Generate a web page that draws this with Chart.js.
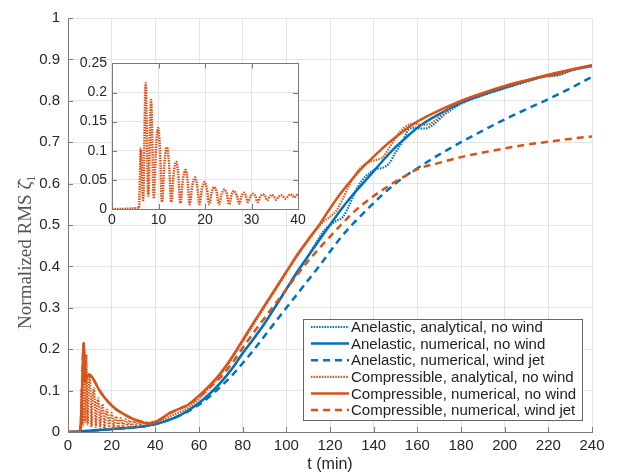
<!DOCTYPE html>
<html>
<head>
<meta charset="utf-8">
<script src="https://cdn.jsdelivr.net/npm/chart.js@4.4.1/dist/chart.umd.min.js"></script>
<style>
  html, body { margin: 0; padding: 0; background: #fff; }
  #wrap { position: relative; width: 618px; height: 474px; }
  #main { position: absolute; left: 0; top: 0; }
  #inset { position: absolute; left: 70px; top: 50px; }
</style>
</head>
<body>
<div id="wrap">
  <canvas id="main" width="618" height="474"></canvas>
  <canvas id="inset" width="240" height="185"></canvas>
</div>
<script>
// time axis (min) shared by the smooth anelastic runs
const tGrid = [0, 5, 10, 15, 20, 25, 30, 35, 40, 45, 50, 55, 60, 65, 70, 75, 80, 85, 90, 95, 100,
  105, 110, 115, 120, 125, 130, 135, 140, 145, 150, 155, 160, 170, 180, 190, 200, 210, 220, 230, 240];

// Anelastic, numerical, no wind
const anelNumV = [0, 0.001, 0.003, 0.005, 0.007, 0.009, 0.011, 0.014, 0.019, 0.027, 0.037, 0.052, 0.07,
  0.093, 0.12, 0.152, 0.19, 0.225, 0.262, 0.303, 0.345, 0.387, 0.425, 0.463, 0.5, 0.537, 0.57, 0.6,
  0.63, 0.66, 0.688, 0.712, 0.735, 0.768, 0.795, 0.815, 0.832, 0.848, 0.862, 0.874, 0.884];

// Anelastic, numerical, wind jet
const anelJetV = [0, 0.001, 0.003, 0.005, 0.007, 0.009, 0.011, 0.014, 0.019, 0.027, 0.037, 0.05, 0.066,
  0.086, 0.11, 0.136, 0.166, 0.198, 0.232, 0.266, 0.3, 0.333, 0.367, 0.4, 0.436, 0.47, 0.5, 0.527,
  0.553, 0.578, 0.6, 0.62, 0.637, 0.67, 0.7, 0.728, 0.755, 0.78, 0.804, 0.83, 0.858];

// Anelastic, analytical, no wind
const anelAnaT = [0, 5, 10, 15, 20, 25, 30, 35, 40, 45, 50, 55, 60, 65, 70, 75, 80, 85, 90, 95, 100,
  105, 110, 114, 117, 120, 123, 126, 129, 132, 135, 138, 141, 144, 147, 150, 153, 156, 159, 162, 165,
  168, 172, 176, 180, 190, 200, 210, 218, 222, 226, 230, 240];
const anelAnaV = [0, 0.001, 0.003, 0.005, 0.007, 0.009, 0.011, 0.014, 0.019, 0.027, 0.037, 0.052, 0.07,
  0.093, 0.12, 0.152, 0.19, 0.225, 0.262, 0.303, 0.345, 0.385, 0.425, 0.46, 0.485, 0.5, 0.51, 0.52,
  0.55, 0.585, 0.61, 0.625, 0.635, 0.638, 0.648, 0.675, 0.70, 0.73, 0.735, 0.733, 0.735, 0.745, 0.765,
  0.78, 0.793, 0.813, 0.83, 0.846, 0.858, 0.86, 0.864, 0.872, 0.884];

// Compressible, numerical (no wind / wind jet share the time axis)
const compNumT = [0, 5.5, 6.2, 7.2, 7.8, 8.5, 9.5, 10.5, 12, 14, 16, 18, 20, 22, 25, 28, 31, 34, 37, 40,
  43, 46, 50, 55, 60, 65, 70, 75, 80, 85, 90, 95, 100, 105, 110, 115, 120, 125, 130, 135, 140, 145,
  150, 155, 160, 170, 180, 190, 200, 210, 220, 230, 240];
const compNumV = [0, 0, 0.06, 0.215, 0.12, 0.13, 0.138, 0.136, 0.124, 0.104, 0.088, 0.075, 0.064, 0.055,
  0.045, 0.036, 0.029, 0.024, 0.021, 0.024, 0.033, 0.044, 0.054, 0.066, 0.088, 0.113, 0.143, 0.18,
  0.222, 0.264, 0.305, 0.346, 0.387, 0.428, 0.465, 0.5, 0.54, 0.577, 0.61, 0.64, 0.665, 0.69, 0.712,
  0.732, 0.75, 0.777, 0.8, 0.819, 0.836, 0.85, 0.863, 0.875, 0.886];
const compJetV = [0, 0, 0.06, 0.215, 0.12, 0.13, 0.138, 0.136, 0.124, 0.104, 0.088, 0.075, 0.064, 0.055,
  0.045, 0.036, 0.029, 0.024, 0.021, 0.024, 0.033, 0.044, 0.054, 0.066, 0.085, 0.108, 0.133, 0.165,
  0.203, 0.24, 0.275, 0.31, 0.345, 0.38, 0.413, 0.443, 0.472, 0.5, 0.527, 0.55, 0.57, 0.588, 0.605,
  0.62, 0.635, 0.65, 0.664, 0.675, 0.685, 0.694, 0.701, 0.708, 0.714];

// Compressible, analytical, no wind (also shown in the inset)
const compAnaT = [0, 5.8, 6.2, 6.7, 7.24, 7.8, 8.4, 9.0, 9.45, 9.9, 10.33, 10.75, 11.27, 11.8, 12.27,
  12.75, 13.27, 13.8, 14.25, 14.7, 15.25, 15.8, 16.25, 16.7, 17.27, 17.85, 18.32, 18.8, 19.35, 19.9,
  20.4, 20.9, 21.45, 22, 22.5, 23, 23.6, 24.2, 24.7, 25.2, 25.7, 26.2, 26.8, 27.4, 27.85, 28.3, 28.75,
  29.2, 29.8, 30.4, 30.85, 31.3, 31.9, 32.5, 32.95, 33.4, 33.9, 34.4, 34.85, 35.3, 35.85, 36.4, 36.85,
  37.3, 37.85, 38.4, 38.8, 39.2, 40,
  43, 46, 50, 55, 60, 65, 70, 75, 80, 85, 90, 95, 100, 105, 110, 114, 117, 120, 123, 126, 129, 132,
  135, 138, 141, 144, 147, 150, 153, 156, 159, 162, 165, 168, 172, 176, 180, 190, 200, 210, 218, 222,
  226, 230, 240];
const compAnaV = [0, 0.002, 0.104, 0.015, 0.216, 0.023, 0.187, 0.018, 0.104, 0.139, 0.1, 0.012, 0.078,
  0.106, 0.078, 0.012, 0.061, 0.081, 0.06, 0.01, 0.05, 0.067, 0.05, 0.008, 0.04, 0.054, 0.04, 0.008,
  0.035, 0.046, 0.035, 0.008, 0.029, 0.0375, 0.029, 0.008, 0.026, 0.0335, 0.026, 0.008, 0.024, 0.031,
  0.024, 0.009, 0.022, 0.028, 0.023, 0.012, 0.022, 0.026, 0.022, 0.012, 0.021, 0.025, 0.022, 0.015,
  0.021, 0.024, 0.021, 0.016, 0.021, 0.0235, 0.021, 0.018, 0.022, 0.025, 0.023, 0.02, 0.026,
  0.027, 0.036, 0.045, 0.058, 0.08, 0.108, 0.14, 0.177, 0.218, 0.26, 0.302, 0.343, 0.385, 0.425, 0.462,
  0.49, 0.508, 0.52, 0.535, 0.565, 0.598, 0.625, 0.643, 0.652, 0.657, 0.663, 0.685, 0.71, 0.73, 0.742,
  0.745, 0.742, 0.743, 0.752, 0.772, 0.788, 0.798, 0.817, 0.834, 0.848, 0.859, 0.861, 0.865, 0.874,
  0.886];

const labels = [
  'Anelastic, analytical, no wind',
  'Anelastic, numerical, no wind',
  'Anelastic, numerical, wind jet',
  'Compressible, analytical, no wind',
  'Compressible, numerical, no wind',
  'Compressible, numerical, wind jet'
];
const yTitle = 'Normalized RMS \u03B6\u0302\u2081';

const blue = '#0072BD';
const red = '#D95319';
const dotted = [1.5, 1.2];
const dashed = [7, 5];
const sansFont = "'Liberation Sans', Arial, Helvetica, sans-serif";
const serifFont = "'Liberation Serif', 'Times New Roman', serif";
const axisColor = '#7a7a7a';
const gridColor = '#e4e4e4';

function pts(t, v) {
  return t.map((x, i) => ({ x: x, y: v[i] }));
}

function series(label, data, color, dash, width) {
  return {
    label: label,
    data: data,
    borderColor: color,
    borderWidth: width,
    borderDash: dash,
    pointRadius: 0,
    fill: false,
    cubicInterpolationMode: 'monotone'
  };
}

const datasets = [
  series(labels[0], pts(anelAnaT, anelAnaV), blue, dotted, 2.2),
  series(labels[1], pts(tGrid, anelNumV), blue, [], 2.5),
  series(labels[2], pts(tGrid, anelJetV), blue, dashed, 2.5),
  series(labels[3], pts(compAnaT, compAnaV), red, dotted, 2.2),
  series(labels[4], pts(compNumT, compNumV), red, [], 2.5),
  series(labels[5], pts(compNumT, compJetV), red, dashed, 2.5)
];
// later entries sit on top, like the original plot order
datasets.forEach((d, i) => { d.order = datasets.length - i; });

// small inward tick marks on the axes
function inwardTicks(mirror) {
  return {
    id: 'inwardTicks',
    afterDraw(chart) {
      const ctx = chart.ctx;
      const a = chart.chartArea;
      const xs = chart.scales.x, ys = chart.scales.y;
      ctx.save();
      ctx.strokeStyle = axisColor;
      ctx.lineWidth = 1;
      ctx.beginPath();
      xs.ticks.forEach(t => {
        const px = Math.round(xs.getPixelForValue(t.value)) + 0.5;
        ctx.moveTo(px, a.bottom); ctx.lineTo(px, a.bottom - 5);
        if (mirror) { ctx.moveTo(px, a.top); ctx.lineTo(px, a.top + 5); }
      });
      ys.ticks.forEach(t => {
        const py = Math.round(ys.getPixelForValue(t.value)) + 0.5;
        ctx.moveTo(a.left, py); ctx.lineTo(a.left + 5, py);
        if (mirror) { ctx.moveTo(a.right, py); ctx.lineTo(a.right - 5, py); }
      });
      ctx.stroke();
      ctx.restore();
    }
  };
}

// y title sits a little below the axis middle in the original
const yTitlePlugin = {
  id: 'yTitlePlugin',
  afterDraw(chart) {
    const ctx = chart.ctx;
    ctx.save();
    ctx.translate(26, 252);
    ctx.rotate(-Math.PI / 2);
    ctx.font = '19px ' + serifFont;
    ctx.fillStyle = '#555';
    ctx.textAlign = 'center';
    ctx.textBaseline = 'middle';
    ctx.fillText(yTitle, 0, 0);
    ctx.restore();
  }
};

// boxed legend in the lower right corner, built from the datasets
const legendBox = {
  id: 'legendBox',
  afterDraw(chart) {
    const ctx = chart.ctx;
    const x0 = 303, y0 = 319, w = 279, h = 101;
    ctx.save();
    ctx.fillStyle = '#fff';
    ctx.fillRect(x0, y0, w, h);
    ctx.strokeStyle = '#666';
    ctx.lineWidth = 1;
    ctx.strokeRect(x0 + 0.5, y0 + 0.5, w, h);
    ctx.font = '15px ' + sansFont;
    ctx.textBaseline = 'middle';
    ctx.fillStyle = '#222';
    chart.data.datasets.forEach((d, i) => {
      const y = y0 + 8 + i * 16.6;
      ctx.beginPath();
      ctx.strokeStyle = d.borderColor;
      ctx.lineWidth = d.borderWidth;
      ctx.setLineDash(d.borderDash);
      ctx.moveTo(x0 + 8, y);
      ctx.lineTo(x0 + 46, y);
      ctx.stroke();
      ctx.setLineDash([]);
      ctx.fillText(d.label, x0 + 48, y + 1);
    });
    ctx.restore();
  }
};

const mainChart = new Chart('main', {
  type: 'line',
  data: { datasets: datasets },
  options: {
    responsive: false,
    animation: false,
    devicePixelRatio: 1,
    layout: { padding: { top: 18, right: 26, left: 0, bottom: 0 } },
    plugins: { legend: { display: false }, tooltip: { enabled: false } },
    scales: {
      x: {
        type: 'linear',
        min: 0,
        max: 240,
        ticks: { stepSize: 20, color: '#262626', font: { family: sansFont, size: 15 }, padding: 5, maxRotation: 0 },
        grid: { color: gridColor, drawTicks: false },
        border: { color: axisColor },
        title: { display: true, text: 't (min)', color: '#262626', font: { family: sansFont, size: 16 }, padding: 0 },
        afterFit(s) { s.height = 42; }
      },
      y: {
        min: 0,
        max: 1,
        ticks: { stepSize: 0.1, color: '#262626', font: { family: sansFont, size: 15 }, padding: 8,
          callback: v => String(+v.toFixed(2)) },
        grid: { color: gridColor, drawTicks: false },
        border: { color: axisColor },
        afterFit(s) { s.width = 68; }
      }
    }
  },
  plugins: [inwardTicks(false), legendBox, yTitlePlugin]
});

// white plot area and full box for the inset
const insetFrame = {
  id: 'insetFrame',
  beforeDraw(chart) {
    const a = chart.chartArea;
    chart.ctx.save();
    chart.ctx.fillStyle = '#fff';
    chart.ctx.fillRect(a.left, a.top, a.right - a.left, a.bottom - a.top);
    chart.ctx.restore();
  },
  afterDraw(chart) {
    const a = chart.chartArea;
    const ctx = chart.ctx;
    ctx.save();
    ctx.strokeStyle = axisColor;
    ctx.lineWidth = 1;
    ctx.strokeRect(Math.round(a.left) + 0.5, Math.round(a.top) + 0.5,
      Math.round(a.right - a.left), Math.round(a.bottom - a.top));
    ctx.restore();
  }
};

const insetData = pts(compAnaT, compAnaV).filter(p => p.x <= 40);

const insetChart = new Chart('inset', {
  type: 'line',
  data: { datasets: [series(labels[3], insetData, red, [1.5, 1], 2.5)] },
  options: {
    responsive: false,
    animation: false,
    devicePixelRatio: 1,
    layout: { padding: { top: 10, right: 12, left: 0, bottom: 0 } },
    plugins: { legend: { display: false }, tooltip: { enabled: false } },
    scales: {
      x: {
        type: 'linear',
        min: 0,
        max: 40,
        ticks: { stepSize: 10, color: '#262626', font: { family: sansFont, size: 14 }, padding: 3, maxRotation: 0 },
        grid: { color: gridColor, drawTicks: false },
        border: { color: axisColor },
        afterFit(s) { s.height = 26; }
      },
      y: {
        min: 0,
        max: 0.25,
        ticks: { stepSize: 0.05, color: '#262626', font: { family: sansFont, size: 14 }, padding: 5,
          callback: v => String(+v.toFixed(2)) },
        grid: { color: gridColor, drawTicks: false },
        border: { color: axisColor },
        afterFit(s) { s.width = 42; }
      }
    }
  },
  plugins: [insetFrame, inwardTicks(true)]
});
</script>
</body>
</html>
